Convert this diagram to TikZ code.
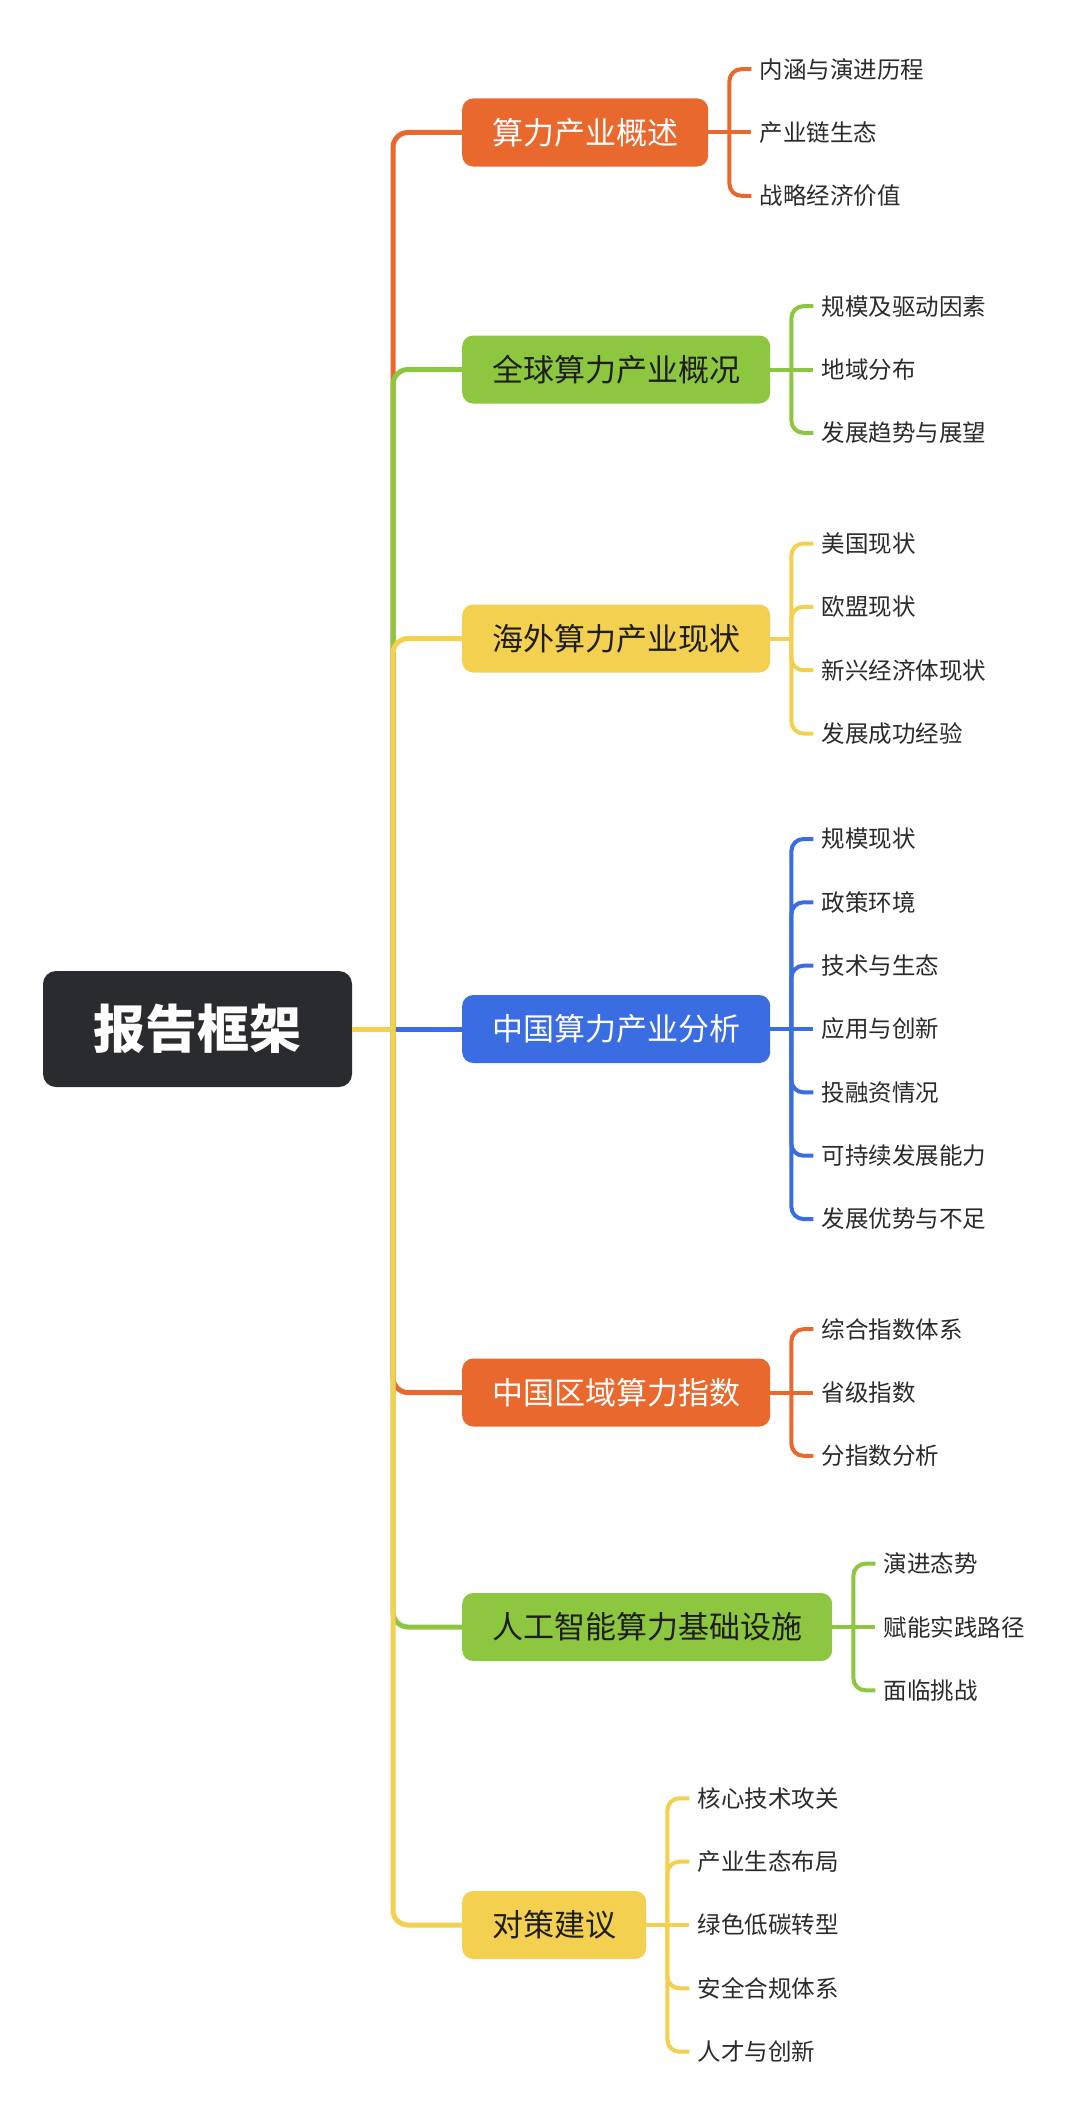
\documentclass[tikz,border=0pt]{standalone}
\usepackage{fontspec}
\newfontfamily\cjk{Noto Sans CJK SC}
\usetikzlibrary{calc}
\definecolor{corange}{HTML}{E9682E}
\definecolor{cgreen}{HTML}{8DC63F}
\definecolor{cyellow}{HTML}{F3D050}
\definecolor{cblue}{HTML}{3A6CE2}
\definecolor{croot}{HTML}{2A2B2F}
\definecolor{cdark}{HTML}{1E1E1E}
\definecolor{cleaf}{HTML}{2B2B2B}
\tikzset{
  rootbox/.style={fill=croot, rounded corners=13pt, text=white, inner sep=0pt,
    minimum width=309pt, minimum height=116pt,
    font=\cjk\bfseries\fontsize{52}{52}\selectfont},
  mainbox/.style={anchor=west, rounded corners=11pt, minimum height=68pt,
    inner xsep=30pt, inner ysep=0pt, font=\cjk\fontsize{31}{31}\selectfont},
  leaf/.style={anchor=west, inner xsep=8pt, inner ysep=2pt, text=cleaf,
    font=\cjk\fontsize{23.5}{23.5}\selectfont},
  trunkline/.style={line width=5pt, rounded corners=15pt},
  subline/.style={line width=4pt, rounded corners=12pt},
}
\begin{document}
\begin{tikzpicture}[x=1pt,y=-1pt]
\useasboundingbox (0,0) rectangle (1080,2122);
\fill[white] (0,0) rectangle (1080,2122);

% root and trunk
\node[rootbox] (root) at (197.5,1029) {报告框架};
\coordinate (t) at (393,1029);

% main nodes
\node[mainbox, fill=corange, text=white] (m1) at (462,132.5) {算力产业概述};
\node[mainbox, fill=cgreen, text=cdark] (m2) at (462,369.5) {全球算力产业概况};
\node[mainbox, fill=cyellow, text=cdark] (m3) at (462,638.5) {海外算力产业现状};
\node[mainbox, fill=cblue, text=white] (m4) at (462,1029) {中国算力产业分析};
\node[mainbox, fill=corange, text=white] (m5) at (462,1392.5) {中国区域算力指数};
\node[mainbox, fill=cgreen, text=cdark] (m6) at (462,1627) {人工智能算力基础设施};
\node[mainbox, fill=cyellow, text=cdark] (m7) at (462,1925) {对策建议};

% trunk connectors
\draw[trunkline, cblue] (t) -- (m4.west);
\draw[trunkline, corange] (t) |- (m1.west);
\draw[trunkline, cgreen] (t) |- (m2.west);
\draw[trunkline, cyellow] (t) |- (m3.west);
\draw[trunkline, corange] (t) |- (m5.west);
\draw[trunkline, cgreen] (t) |- (m6.west);
\draw[trunkline, cyellow] (t) |- (m7.west);
\draw[trunkline, cyellow] (root.east) -- (t);

% bracket points
\coordinate (b1) at ($(m1.east)+(21,0)$);
\coordinate (b2) at ($(m2.east)+(21,0)$);
\coordinate (b3) at ($(m3.east)+(21,0)$);
\coordinate (b4) at ($(m4.east)+(21,0)$);
\coordinate (b5) at ($(m5.east)+(21,0)$);
\coordinate (b6) at ($(m6.east)+(21,0)$);
\coordinate (b7) at ($(m7.east)+(21,0)$);

% leaves group 1
\node[leaf] (l11) at ($(b1)+(22,-63.3)$) {内涵与演进历程};
\node[leaf] (l12) at ($(b1)+(22,0)$) {产业链生态};
\node[leaf] (l13) at ($(b1)+(22,63.3)$) {战略经济价值};
% group 2
\node[leaf] (l21) at ($(b2)+(22,-63.3)$) {规模及驱动因素};
\node[leaf] (l22) at ($(b2)+(22,0)$) {地域分布};
\node[leaf] (l23) at ($(b2)+(22,63.3)$) {发展趋势与展望};
% group 3
\node[leaf] (l31) at ($(b3)+(22,-95)$) {美国现状};
\node[leaf] (l32) at ($(b3)+(22,-31.7)$) {欧盟现状};
\node[leaf] (l33) at ($(b3)+(22,31.7)$) {新兴经济体现状};
\node[leaf] (l34) at ($(b3)+(22,95)$) {发展成功经验};
% group 4
\node[leaf] (l41) at ($(b4)+(22,-190)$) {规模现状};
\node[leaf] (l42) at ($(b4)+(22,-126.7)$) {政策环境};
\node[leaf] (l43) at ($(b4)+(22,-63.3)$) {技术与生态};
\node[leaf] (l44) at ($(b4)+(22,0)$) {应用与创新};
\node[leaf] (l45) at ($(b4)+(22,63.3)$) {投融资情况};
\node[leaf] (l46) at ($(b4)+(22,126.7)$) {可持续发展能力};
\node[leaf] (l47) at ($(b4)+(22,190)$) {发展优势与不足};
% group 5
\node[leaf] (l51) at ($(b5)+(22,-63.3)$) {综合指数体系};
\node[leaf] (l52) at ($(b5)+(22,0)$) {省级指数};
\node[leaf] (l53) at ($(b5)+(22,63.3)$) {分指数分析};
% group 6
\node[leaf] (l61) at ($(b6)+(22,-63.3)$) {演进态势};
\node[leaf] (l62) at ($(b6)+(22,0)$) {赋能实践路径};
\node[leaf] (l63) at ($(b6)+(22,63.3)$) {面临挑战};
% group 7
\node[leaf] (l71) at ($(b7)+(22,-126.7)$) {核心技术攻关};
\node[leaf] (l72) at ($(b7)+(22,-63.3)$) {产业生态布局};
\node[leaf] (l73) at ($(b7)+(22,0)$) {绿色低碳转型};
\node[leaf] (l74) at ($(b7)+(22,63.3)$) {安全合规体系};
\node[leaf] (l75) at ($(b7)+(22,126.7)$) {人才与创新};

% connectors group 1
\draw[subline, corange] (m1.east) -- (b1);
\draw[subline, corange] (b1) |- (l11.west);
\draw[subline, corange] (b1) -- (l12.west);
\draw[subline, corange] (b1) |- (l13.west);
% group 2
\draw[subline, cgreen] (m2.east) -- (b2);
\draw[subline, cgreen] (b2) |- (l21.west);
\draw[subline, cgreen] (b2) -- (l22.west);
\draw[subline, cgreen] (b2) |- (l23.west);
% group 3
\draw[subline, cyellow] (m3.east) -- (b3);
\draw[subline, cyellow] (b3) |- (l31.west);
\draw[subline, cyellow] (b3) |- (l32.west);
\draw[subline, cyellow] (b3) |- (l33.west);
\draw[subline, cyellow] (b3) |- (l34.west);
% group 4
\draw[subline, cblue] (m4.east) -- (b4);
\draw[subline, cblue] (b4) |- (l41.west);
\draw[subline, cblue] (b4) |- (l42.west);
\draw[subline, cblue] (b4) |- (l43.west);
\draw[subline, cblue] (b4) -- (l44.west);
\draw[subline, cblue] (b4) |- (l45.west);
\draw[subline, cblue] (b4) |- (l46.west);
\draw[subline, cblue] (b4) |- (l47.west);
% group 5
\draw[subline, corange] (m5.east) -- (b5);
\draw[subline, corange] (b5) |- (l51.west);
\draw[subline, corange] (b5) -- (l52.west);
\draw[subline, corange] (b5) |- (l53.west);
% group 6
\draw[subline, cgreen] (m6.east) -- (b6);
\draw[subline, cgreen] (b6) |- (l61.west);
\draw[subline, cgreen] (b6) -- (l62.west);
\draw[subline, cgreen] (b6) |- (l63.west);
% group 7
\draw[subline, cyellow] (m7.east) -- (b7);
\draw[subline, cyellow] (b7) |- (l71.west);
\draw[subline, cyellow] (b7) |- (l72.west);
\draw[subline, cyellow] (b7) -- (l73.west);
\draw[subline, cyellow] (b7) |- (l74.west);
\draw[subline, cyellow] (b7) |- (l75.west);
\end{tikzpicture}
\end{document}
